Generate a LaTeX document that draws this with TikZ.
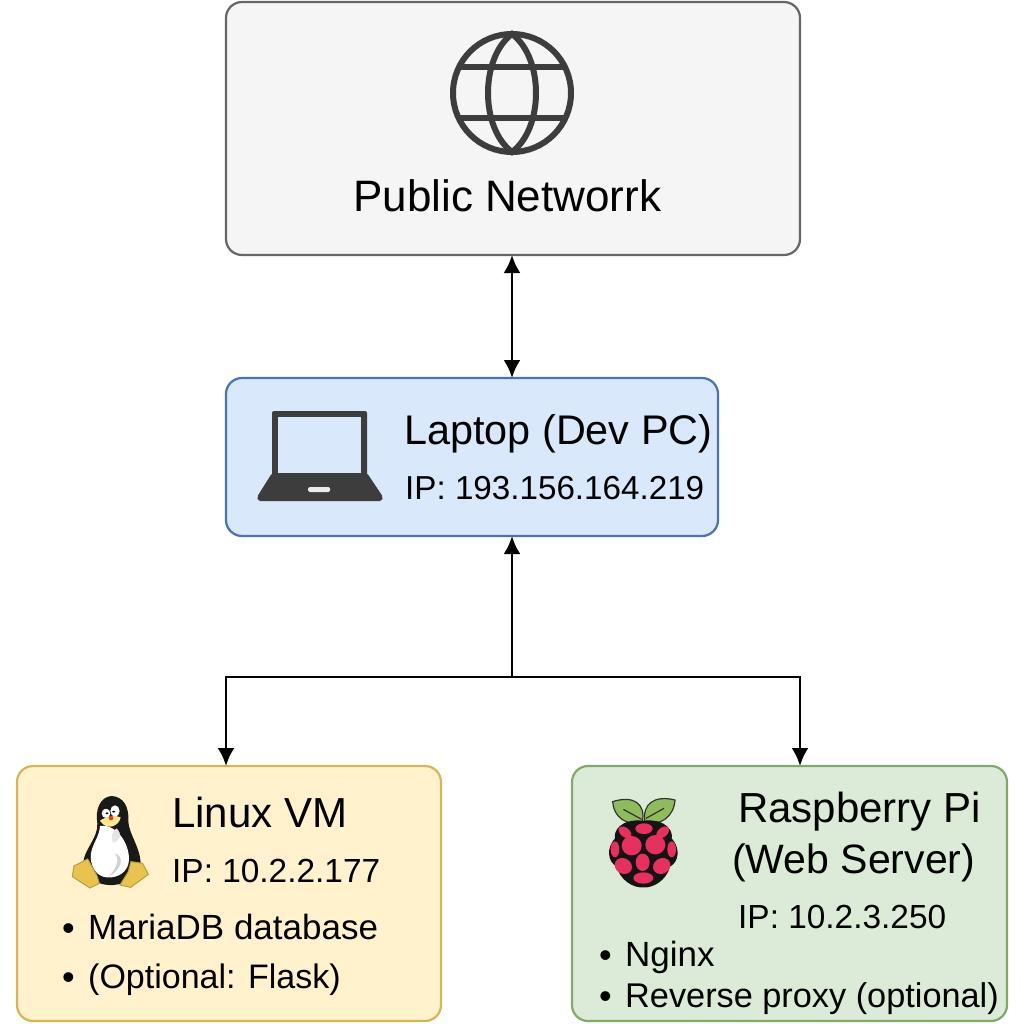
\documentclass[tikz,border=0pt]{standalone}
\usepackage{fontspec}
\setmainfont{Liberation Sans}
\usepackage{xcolor}
\usetikzlibrary{positioning,arrows.meta,calc}
\definecolor{iconGrey}{HTML}{3D3D3D}
\definecolor{tuxGold}{HTML}{E9C44C}
\definecolor{piRed}{HTML}{E8305F}
\definecolor{piLeaf}{HTML}{8FBC5A}
\definecolor{netFill}{HTML}{F5F5F5}
\definecolor{netLine}{HTML}{666666}
\definecolor{lapFill}{HTML}{DAE8FC}
\definecolor{lapLine}{HTML}{4A70BE}
\definecolor{vmFill}{HTML}{FFF2CC}
\definecolor{vmLine}{HTML}{D6B656}
\definecolor{piFill}{HTML}{DCEBD8}
\definecolor{piLine}{HTML}{82A96A}
\newcommand{\bulletmark}{\makebox[26pt][l]{\fontsize{36}{36}\selectfont\raisebox{-1pt}{\textbullet}}}
\tikzset{
  card/.style={draw,rectangle,rounded corners=16pt,line width=2.2pt,inner sep=0pt,outer sep=0pt},
  link/.style={line width=2.8pt,-{Latex[length=18pt,width=17pt]}},
  bothlink/.style={line width=2.8pt,{Latex[length=18pt,width=17pt]}-{Latex[length=18pt,width=17pt]}},
  head/.style={anchor=base west,inner sep=0pt,font=\fontsize{42}{48}\selectfont},
  addr/.style={anchor=base west,inner sep=0pt,font=\fontsize{33.4}{40}\selectfont},
  item/.style={anchor=base west,inner sep=0pt,font=\fontsize{35}{40}\selectfont}
}
\begin{document}
\begin{tikzpicture}[x=1pt,y=-1pt]
\useasboundingbox (0,0) rectangle (1024,1024);
% boxes
\node[card,fill=netFill,draw=netLine,minimum width=574pt,minimum height=253pt] (network) at (513,128.5) {};
\node[card,fill=lapFill,draw=lapLine,minimum width=492pt,minimum height=158pt] (laptop) at (472,457) {};
\node[card,fill=vmFill,draw=vmLine,minimum width=424pt,minimum height=255pt] (linuxvm) at (229,893.5) {};
\node[card,fill=piFill,draw=piLine,minimum width=435pt,minimum height=255pt] (raspi) at (789.5,893.5) {};
\coordinate (junction) at (512,677);
\coordinate (vmdrop) at (226,766);
\coordinate (pidrop) at (800,766);
% connectors
\draw[bothlink] (network.south -| junction) -- (laptop.north -| junction);
\draw[link] (junction) -- (laptop.south -| junction);
\draw[link] (junction) -| (vmdrop);
\draw[link] (junction) -| (pidrop);
% texts
\node[anchor=base west,inner sep=0pt,font=\fontsize{44}{50}\selectfont] (nettext) at (353,212) {Public Networrk};
\node[head,font=\fontsize{41.4}{48}\selectfont] (laptoptext) at (404,444) {Laptop (Dev PC)};
\node[addr,font=\fontsize{33.2}{40}\selectfont] (laptopip) at (405,499) {IP: 193.156.164.219};
\node[head] (vmtext) at (172,827) {Linux VM};
\node[addr] (vmip) at (172,882) {IP: 10.2.2.177};
\node[item] (mariadb) at (62,939) {\bulletmark MariaDB database};
\node[item,font=\fontsize{34}{40}\selectfont] (flask) at (62,988) {\bulletmark (Optional: Flask)};
\node[head] (pitext) at (738,822) {Raspberry Pi};
\node[head,font=\fontsize{41}{48}\selectfont] (webtext) at (732,873) {(Web Server)};
\node[addr] (piip) at (738,928) {IP: 10.2.3.250};
\node[item] (nginx) at (599,966) {\bulletmark Nginx};
\node[item,font=\fontsize{34.3}{40}\selectfont] (proxy) at (599,1007) {\bulletmark Reverse proxy (optional)};
% globe
\draw[iconGrey,line width=6pt] (512,93) circle (59);
\draw[iconGrey,line width=6pt] (512,34) .. controls (480,58) and (480,128) .. (512,152) .. controls (544,128) and (544,58) .. (512,34) -- cycle;
\draw[iconGrey,line width=6pt] (460,67) -- (564,67);
\draw[iconGrey,line width=6pt] (460,118) -- (564,118);
% laptop icon
\fill[iconGrey,rounded corners=2pt] (272,411) rectangle (367,476);
\fill[iconGrey,rounded corners=2pt] (272,473) -- (367,473) -- (383,497) -- (382,501) -- (258,501) -- (257,497) -- cycle;
\fill[lapFill] (278,417) rectangle (361,473);
\fill[black!8,rounded corners=1.5pt] (308,487) rectangle (330,492);
% penguin
\begin{scope}[shift={(0,760)},scale=1/3]
\fill[black!90] (335,108) .. controls (370,110) and (388,140) .. (385,185) .. controls (388,225) and (420,260) .. (422,310) .. controls (424,340) and (395,370) .. (340,375) .. controls (290,378) and (255,350) .. (250,310) .. controls (250,270) and (295,235) .. (292,190) .. controls (285,150) and (300,110) .. (335,108) -- cycle;
\fill[white] (300,198) .. controls (345,190) and (388,245) .. (387,300) .. controls (385,335) and (355,355) .. (320,352) .. controls (285,350) and (268,310) .. (273,280) .. controls (278,250) and (298,230) .. (300,198) -- cycle;
\fill[black!10] (350,205) .. controls (368,225) and (362,240) .. (340,248) .. controls (330,235) and (335,215) .. (350,205) -- cycle;
\fill[black!18] (345,280) .. controls (375,290) and (365,330) .. (325,350) .. controls (350,325) and (360,300) .. (345,280) -- cycle;
\fill[white] (318,160) ellipse (13 and 14);
\fill[white] (345,153) ellipse (14 and 17);
\fill[black] (321,160) ellipse (5 and 3);
\fill[black] (341,155) ellipse (5 and 3);
\fill[orange!40!yellow!45!white] (300,182) .. controls (320,168) and (350,165) .. (362,172) .. controls (358,198) and (320,215) .. (300,182) -- cycle;
\fill[red!60!orange] (333,174) circle (7);
\filldraw[fill=tuxGold,draw=tuxGold!80!black,line width=1pt] (217,350) -- (222,318) -- (263,297) -- (290,345) -- (298,370) -- (270,384) -- cycle;
\filldraw[fill=tuxGold,draw=tuxGold!80!black,line width=1pt] (360,375) -- (385,335) -- (393,305) -- (428,310) -- (445,343) -- (392,382) -- cycle;
\end{scope}
% raspberry
\begin{scope}[shift={(570,760)},scale=1/3]
\filldraw[fill=piLeaf,draw=black!80,line width=1.2pt] (217,187) .. controls (170,200) and (130,170) .. (128,125) .. controls (190,105) and (228,130) .. (217,187) -- cycle;
\filldraw[fill=piLeaf,draw=black!80,line width=1.2pt] (225,187) .. controls (270,200) and (312,170) .. (315,120) .. controls (255,105) and (215,130) .. (225,187) -- cycle;
\draw[black!80,line width=1.2pt] (215,178) -- (160,148);
\draw[black!80,line width=1.2pt] (228,175) -- (282,145);
\fill[black!92] (220,182) .. controls (290,175) and (310,215) .. (305,235) .. controls (332,265) and (327,305) .. (300,320) .. controls (290,360) and (250,385) .. (220,382) .. controls (190,385) and (150,360) .. (140,320) .. controls (113,305) and (108,265) .. (135,235) .. controls (130,215) and (150,175) .. (220,182) -- cycle;
\foreach \cx/\cy/\rx/\ry/\tilt in {222/206/26/16/0,165/217/22/14/-40,278/217/22/14/40,185/257/30/29/0,256/254/30/29/0,135/268/13/24/0,305/268/13/24/0,218/307/21/26/0,160/318/27/23/-30,275/318/27/23/30,220/354/30/17/0} {
  \fill[piRed,rotate around={\tilt:(\cx,\cy)}] (\cx,\cy) ellipse [x radius=\rx,y radius=\ry];
}
\end{scope}
\end{tikzpicture}
\end{document}
